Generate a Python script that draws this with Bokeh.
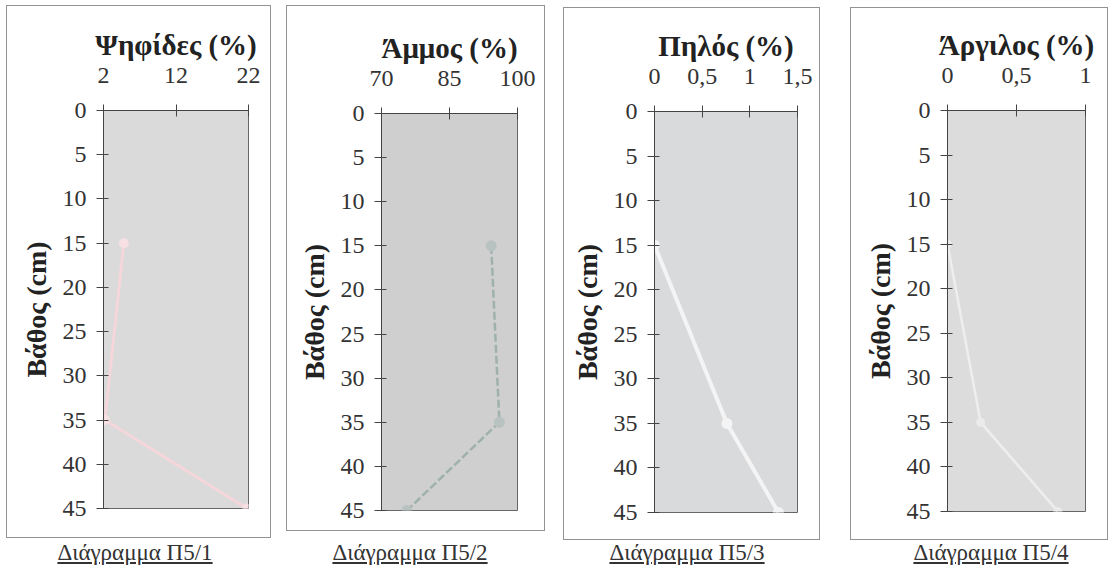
from bokeh.plotting import figure
from bokeh.models import Range1d, FixedTicker, Div
from bokeh.layouts import row, column
from bokeh.embed import file_html
from bokeh.resources import INLINE

depth = [15, 35, 45]
gravel = [4.8, 2.2, 21.8]
sand = [94.2, 96.0, 75.6]
silt = [0.0, 0.76, 1.3]
clay = [0.0, 0.24, 0.8]

titles = ["Ψηφίδες (%)", "Άμμος (%)", "Πηλός (%)", "Άργιλος (%)"]
captions = ["Διάγραμμα Π5/1", "Διάγραμμα Π5/2", "Διάγραμμα Π5/3", "Διάγραμμα Π5/4"]
x_ranges = [(2, 22), (70, 100), (0, 1.5), (0, 1)]
x_ticks = [[2, 12, 22], [70, 85, 100], [0, 0.5, 1, 1.5], [0, 0.5, 1]]
x_tick_labels = [{}, {}, {0: "0", 0.5: "0,5", 1: "1", 1.5: "1,5"}, {0: "0", 0.5: "0,5", 1: "1"}]
y_ticks = [0, 5, 10, 15, 20, 25, 30, 35, 40, 45]
series = [gravel, sand, silt, clay]
y_label = "Βάθος (cm)"

# (box_left, box_top, box_w, box_h, border_left, border_right, border_top, border_bottom, col_margin_left)
geom = [
    (7, 6, 263, 531, 96, 22, 104, 29, 7),
    (287, 6, 257, 524, 94, 27, 107, 20, 17),
    (564, 8, 255, 531, 90, 22, 103, 27, 20),
    (851, 8, 256, 531, 96, 22, 102, 28, 32),
]
bg = ["#dadada", "#cfcfcf", "#d9dadc", "#dcdcdd"]
line_colors = ["#f5d6da", "#9fb1ad", "#f4f4f4", "#eeeeee"]
marker_colors = ["#f7e0e3", "#b8c3c1", "#f4f4f4", "#ebebeb"]
line_widths = [3, 2.5, 4, 2.5]
line_dashes = ["solid", "8 3", "solid", "solid"]
marker_sizes = [10, 11, 11, 9]
cap_centers = [135, 410, 687, 991]

FONT = "Liberation Serif"

cols = []
col_start = 0
for i in range(4):
    bl, bt, bw, bh, mbl, mbr, mbt, mbb, cml = geom[i]
    p = figure(width=bw, height=bh, output_backend="svg", toolbar_location=None,
               x_range=Range1d(*x_ranges[i]), y_range=Range1d(45, 0),
               x_axis_location="above", min_border_left=mbl, min_border_right=mbr,
               min_border_top=mbt, min_border_bottom=mbb,
               background_fill_color=bg[i], border_fill_color="white")
    p.margin = (bt, 0, 0, cml)
    p.styles = {"outline": "1.5px solid #939393"}
    p.outline_line_color = "#666666"
    p.outline_line_width = 1
    p.grid.visible = False

    xa = p.xaxis[0]
    xa.ticker = FixedTicker(ticks=x_ticks[i])
    if x_tick_labels[i]:
        xa.major_label_overrides = x_tick_labels[i]
    xa.axis_label = titles[i]
    xa.axis_label_text_font = FONT
    xa.axis_label_text_font_style = "bold"
    xa.axis_label_text_font_size = "29px"
    xa.axis_label_text_color = "#222222"
    xa.axis_label_standoff = 4
    xa.major_label_text_font = FONT
    xa.major_label_text_font_size = "24px"
    xa.major_label_text_color = "#333333"
    xa.major_label_standoff = 22
    xa.major_tick_out = 6
    xa.major_tick_in = 6
    xa.minor_tick_out = 0
    xa.minor_tick_in = 0
    xa.axis_line_color = "#444444"
    xa.major_tick_line_color = "#444444"

    ya = p.yaxis[0]
    ya.ticker = FixedTicker(ticks=y_ticks)
    ya.axis_label = y_label
    ya.axis_label_text_font = FONT
    ya.axis_label_text_font_style = "bold"
    ya.axis_label_text_font_size = "28px"
    ya.axis_label_text_color = "#222222"
    ya.axis_label_standoff = 8
    ya.major_label_text_font = FONT
    ya.major_label_text_font_size = "24px"
    ya.major_label_text_color = "#333333"
    ya.major_label_standoff = 10
    ya.major_tick_out = 7
    ya.major_tick_in = 5
    ya.minor_tick_out = 0
    ya.minor_tick_in = 0
    ya.axis_line_color = "#444444"
    ya.major_tick_line_color = "#444444"

    p.line(series[i], depth, line_color=line_colors[i], line_width=line_widths[i],
           line_dash=line_dashes[i])
    p.scatter(series[i], depth, size=marker_sizes[i], fill_color=marker_colors[i], line_color=None)

    col_w = cml + bw
    fig_bottom = bt + bh
    div_top = 540
    div = Div(text="<u>" + captions[i] + "</u>", width=220, height=28,
              styles={"font-family": FONT, "font-size": "23px", "line-height": "26px",
                      "text-align": "center", "color": "#333333", "width": "220px"})
    div.margin = (div_top - fig_bottom, 0, 0, cap_centers[i] - 110 - col_start)
    c = column(p, div, spacing=0)
    cols.append(c)
    col_start += col_w

layout = row(*cols, spacing=0)
layout.margin = (0, 0, 0, 0)

open("out.html", "w").write(file_html(layout, INLINE))
